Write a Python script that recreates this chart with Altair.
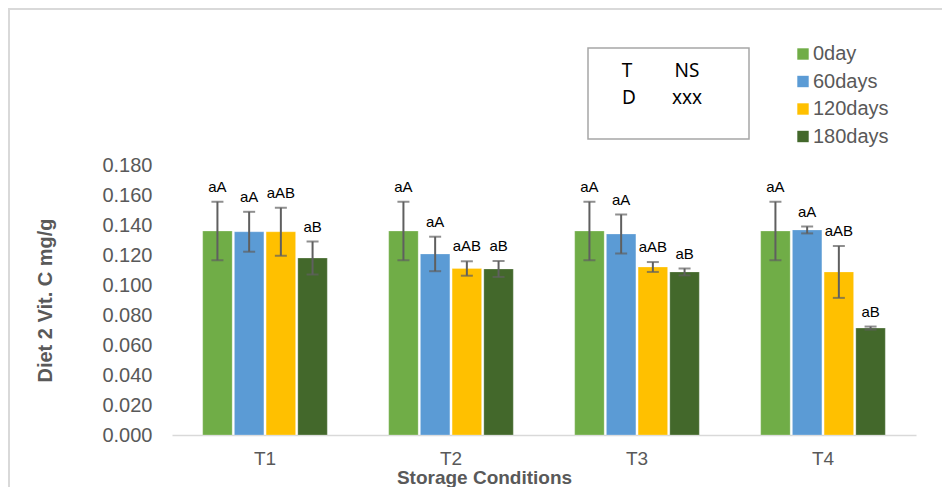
import altair as alt
import pandas as pd

conditions = ["T1", "T2", "T3", "T4"]
periods = ["0day", "60days", "120days", "180days"]
colors = ["#70ad47", "#5b9bd5", "#ffc000", "#43682b"]

means = {
    "0day":    [0.136, 0.136, 0.136, 0.136],
    "60days":  [0.1355, 0.1207, 0.134, 0.1367],
    "120days": [0.1355, 0.111, 0.112, 0.1087],
    "180days": [0.118, 0.1107, 0.1087, 0.0713],
}
errors = {
    "0day":    [0.0195, 0.0195, 0.0195, 0.0195],
    "60days":  [0.0133, 0.0115, 0.013, 0.0023],
    "120days": [0.016, 0.0048, 0.0033, 0.0173],
    "180days": [0.011, 0.0053, 0.0023, 0.001],
}
letters = {
    "0day":    ["aA", "aA", "aA", "aA"],
    "60days":  ["aA", "aA", "aA", "aA"],
    "120days": ["aAB", "aAB", "aAB", "aAB"],
    "180days": ["aB", "aB", "aB", "aB"],
}
y_ticks = [0, 0.02, 0.04, 0.06, 0.08, 0.1, 0.12, 0.14, 0.16, 0.18]

rows = []
for p in periods:
    for i, c in enumerate(conditions):
        m = means[p][i]
        e = errors[p][i]
        rows.append({"cond": c, "period": p, "mean": m, "lo": m - e, "hi": m + e, "lab": letters[p][i]})
df = pd.DataFrame(rows)

FONT = "Liberation Sans"
GREY = "#595959"

x_axis = alt.Axis(title="Storage Conditions", labelAngle=0, ticks=False,
                  domainColor="#d9d9d9", domainWidth=1.5,
                  labelFont=FONT, labelFontSize=19, labelColor=GREY, labelPadding=14,
                  titleFont=FONT, titleFontSize=19, titleFontWeight="bold",
                  titleColor=GREY, titlePadding=0, titleX=312)
y_axis = alt.Axis(title="Diet 2 Vit. C mg/g", values=y_ticks, labelOverlap=False,
                  format=".3f", grid=False, domain=False, ticks=False,
                  labelFont=FONT, labelFontSize=20, labelColor=GREY, labelPadding=20,
                  titleFont=FONT, titleFontSize=20, titleFontWeight="bold",
                  titleColor=GREY, titlePadding=46)
x_scale = alt.Scale(paddingInner=0.33, paddingOuter=0.165)
y_scale = alt.Scale(domain=[0, 0.18], nice=False)

def X():
    return alt.X("cond:N", sort=conditions, scale=x_scale, axis=x_axis)

def Y(field):
    return alt.Y(field, scale=y_scale, axis=y_axis, title="Diet 2 Vit. C mg/g")

xo = alt.XOffset("period:N", sort=periods, scale=alt.Scale(paddingInner=0.07))

base = alt.Chart(df)

bars = base.mark_bar(stroke="#ffffff", strokeOpacity=0.5, strokeWidth=0.5).encode(
    x=X(), xOffset=xo, y=Y("mean:Q"),
    color=alt.Color("period:N", sort=periods, scale=alt.Scale(domain=periods, range=colors),
                    legend=alt.Legend(title=None, orient="none", legendX=621, legendY=-121,
                                      symbolType="square", symbolSize=130, symbolStrokeWidth=0,
                                      labelFont=FONT, labelFontSize=20, labelColor=GREY,
                                      rowPadding=7.5, labelOffset=0)),
)

err = base.mark_rule(color="#5f5f5f", strokeWidth=2).encode(
    x=X(), xOffset=xo, y=Y("lo:Q"), y2="hi:Q")
cap_lo = base.mark_tick(color="#5f5f5f", thickness=2, size=12).encode(
    x=X(), xOffset=xo, y=Y("lo:Q"))
cap_hi = base.mark_tick(color="#5f5f5f", thickness=2, size=12).encode(
    x=X(), xOffset=xo, y=Y("hi:Q"))

labels = base.mark_text(font=FONT, fontSize=15, color="#000000", baseline="alphabetic", dy=-10).encode(
    x=X(), xOffset=xo, y=Y("hi:Q"), text="lab:N")

frame = alt.Chart(pd.DataFrame({"k": [0]})).mark_rect(
    fill=None, stroke="#d9d9d9", strokeWidth=2).encode(
    x=alt.value(-163), x2=alt.value(800), y=alt.value(-156), y2=alt.value(340))

box = alt.Chart(pd.DataFrame({"k": [0]})).mark_rect(
    fill=None, stroke="#a6a6a6", strokeWidth=1.5).encode(
    x=alt.value(416), x2=alt.value(577), y=alt.value(-117), y2=alt.value(-26))

box_texts = [("T", 455, -94), ("NS", 515, -94), ("D", 457, -67), ("xxx", 515, -67)]
box_layers = [
    alt.Chart(pd.DataFrame({"t": [t]})).mark_text(font="Noto Sans", fontSize=19, color="#000000",
                                                  baseline="middle", align="center").encode(
        x=alt.value(xx), y=alt.value(yy), text="t:N")
    for t, xx, yy in box_texts
]

chart = alt.layer(bars, err, cap_lo, cap_hi, labels, box, *box_layers, frame).properties(
    width=744, height=270,
    autosize=alt.AutoSizeParams(type="none"),
    padding={"left": 164, "top": 157, "right": 26, "bottom": 52},
).configure_view(stroke=None).configure_axisY(labelOverlap=False)

chart.save("out.html", embed_options={"renderer": "svg", "actions": False})
